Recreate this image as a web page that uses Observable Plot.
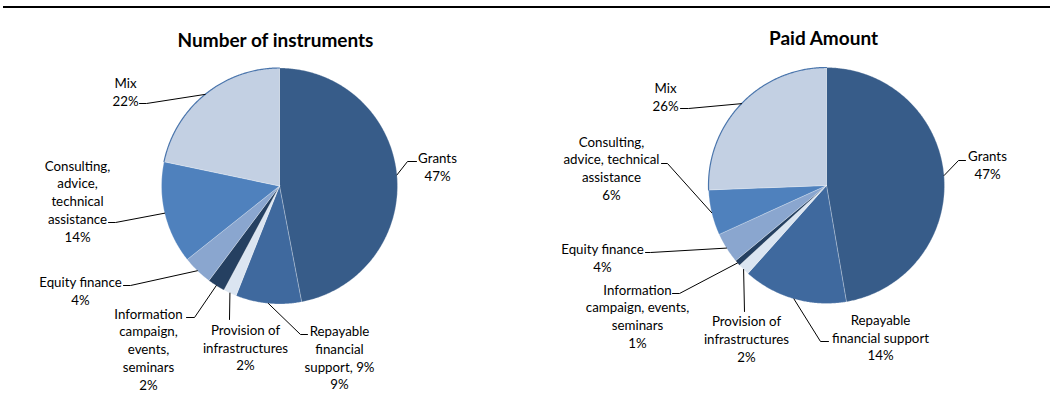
<!DOCTYPE html>
<html>
<head>
<meta charset="utf-8">
<script src="https://cdn.jsdelivr.net/npm/d3@7"></script>
<script src="https://cdn.jsdelivr.net/npm/@observablehq/plot@0.6"></script>
<style>
  html, body { margin: 0; padding: 0; background: #fff; }
  #chart { width: 1053px; height: 410px; }
</style>
</head>
<body>
<div id="chart"></div>
<script>
// ---------- data ----------
const categories = [
  "Grants",
  "Repayable financial support",
  "Provision of infrastructures",
  "Information campaign, events, seminars",
  "Equity finance",
  "Consulting, advice, technical assistance",
  "Mix"
];
const titles = ["Number of instruments", "Paid Amount"];
const instrumentsValues = [47.0, 9.0, 1.8, 2.4, 4.1, 14.0, 21.7];
const paidValues = [47.3, 14.3, 1.6, 0.8, 4.2, 6.2, 25.6];
const instrumentsLabels = [
  "Grants",
  "Repayable\nfinancial\nsupport, 9%",
  "Provision of\ninfrastructures",
  "Information\ncampaign,\nevents,\nseminars",
  "Equity finance",
  "Consulting,\nadvice,\ntechnical\nassistance",
  "Mix"
];
const paidLabels = [
  "Grants",
  "Repayable\nfinancial support",
  "Provision of\ninfrastructures",
  "Information\ncampaign, events,\nseminars",
  "Equity finance",
  "Consulting,\nadvice, technical\nassistance",
  "Mix"
];

// ---------- styles ----------
const sliceColors = ["#375C89", "#3F699E", "#DBE5F1", "#254061", "#8AA6CF", "#4F81BD", "#C3D0E3"];
const outlinedCategories = ["Mix"];
const outlineColor = "#4A75AC";

// ---------- layout ----------
const W = 1053, H = 410;
const layouts = [
  {
    cx: 279, cy: 185.5, r: 118, titleX: 275, titleY: 40,
    labels: [
      {x: 437, y: 166, path: [[407, 161], [416, 161]]},
      {x: 339, y: 356.5, path: [[300, 334], [307, 334]]},
      {x: 245, y: 346.5, path: [[229, 319]]},
      {x: 148, y: 348, path: [[194, 317], [186, 317]]},
      {x: 80, y: 290, path: [[130, 285], [123, 285]]},
      {x: 77, y: 200, path: [[115, 222], [108, 222]]},
      {x: 125, y: 90.5, path: [[146, 103], [139, 103]]}
    ]
  },
  {
    cx: 826, cy: 185, r: 118, titleX: 823, titleY: 38,
    labels: [
      {x: 987, y: 163.5, path: [[958, 160], [965, 160]]},
      {x: 880, y: 336.5, path: [[820, 341], [828, 341]]},
      {x: 746, y: 338, path: [[744, 311]]},
      {x: 637, y: 315, path: [[679, 293], [672, 293]]},
      {x: 602, y: 257, path: [[650, 252], [645, 252]]},
      {x: 611, y: 167, path: [[667, 163], [661, 163]]},
      {x: 665, y: 95.5, path: [[688, 108], [680, 108]]}
    ]
  }
];

// ---------- build geometry from the data ----------
const seriesValues = [instrumentsValues, paidValues];
const seriesLabels = [instrumentsLabels, paidLabels];
const slicePts = [], outlinePts = [], leaderPts = [], labelRows = [], titleRows = [];
const pie = d3.pie().sort(null).value(d => d.value).startAngle(0).endAngle(2 * Math.PI);

seriesValues.forEach((vals, ci) => {
  const L = layouts[ci];
  const rows = categories.map((c, i) => ({category: c, value: vals[i], label: seriesLabels[ci][i]}));
  const total = d3.sum(vals);
  const arcs = pie(rows);
  const pt = (a, rr) => [L.cx + rr * Math.sin(a), L.cy - rr * Math.cos(a)];
  titleRows.push({x: L.titleX, y: L.titleY, text: titles[ci]});
  arcs.forEach((a, i) => {
    const id = ci + "-" + i;
    const n = Math.max(2, Math.ceil((a.endAngle - a.startAngle) / (Math.PI / 360)));
    const ring = d3.range(n + 1).map(k => pt(a.startAngle + (a.endAngle - a.startAngle) * k / n, L.r));
    const poly = [[L.cx, L.cy], ...ring, [L.cx, L.cy]];
    poly.forEach(([x, y], k) => slicePts.push({id, category: a.data.category, x, y, k}));
    if (outlinedCategories.includes(a.data.category)) {
      ring.forEach(([x, y]) => outlinePts.push({id, x, y}));
    }
    const mid = (a.startAngle + a.endAngle) / 2;
    const anchor = pt(mid, L.r);
    [anchor, ...L.labels[i].path].forEach(([x, y]) => leaderPts.push({id, x, y}));
    const pct = Math.round(a.data.value / total * 100) + "%";
    labelRows.push({x: L.labels[i].x, y: L.labels[i].y, text: a.data.label + "\n" + pct});
  });
});

const plot = Plot.plot({
  width: W,
  height: H,
  margin: 0,
  x: {domain: [0, W], range: [0, W], axis: null},
  y: {domain: [0, H], range: [0, H], axis: null},
  color: {domain: categories, range: sliceColors},
  style: {fontFamily: "Lato, 'Open Sans', sans-serif", fontSize: "13px", background: "#fff", color: "#000"},
  marks: [
    Plot.ruleY([6.5], {x1: 3, x2: 1050, stroke: "#000", strokeWidth: 2}),
    Plot.line(slicePts, {x: "x", y: "y", z: "id", fill: "category", stroke: "#ffffff", strokeOpacity: 0.35, strokeWidth: 0.75, curve: "linear"}),
    Plot.line(outlinePts, {x: "x", y: "y", z: "id", stroke: outlineColor, strokeWidth: 1.2}),
    Plot.line(leaderPts, {x: "x", y: "y", z: "id", stroke: "#000", strokeWidth: 1}),
    Plot.text(labelRows, {x: "x", y: "y", text: "text", fill: "#000", fontSize: 13.3, lineHeight: 1.33, lineAnchor: "middle", textAnchor: "middle"}),
    Plot.text(titleRows, {x: "x", y: "y", text: "text", fill: "#000", fontSize: 19, fontWeight: "bold", lineAnchor: "middle", textAnchor: "middle"})
  ]
});
document.getElementById("chart").appendChild(plot);
</script>
</body>
</html>
